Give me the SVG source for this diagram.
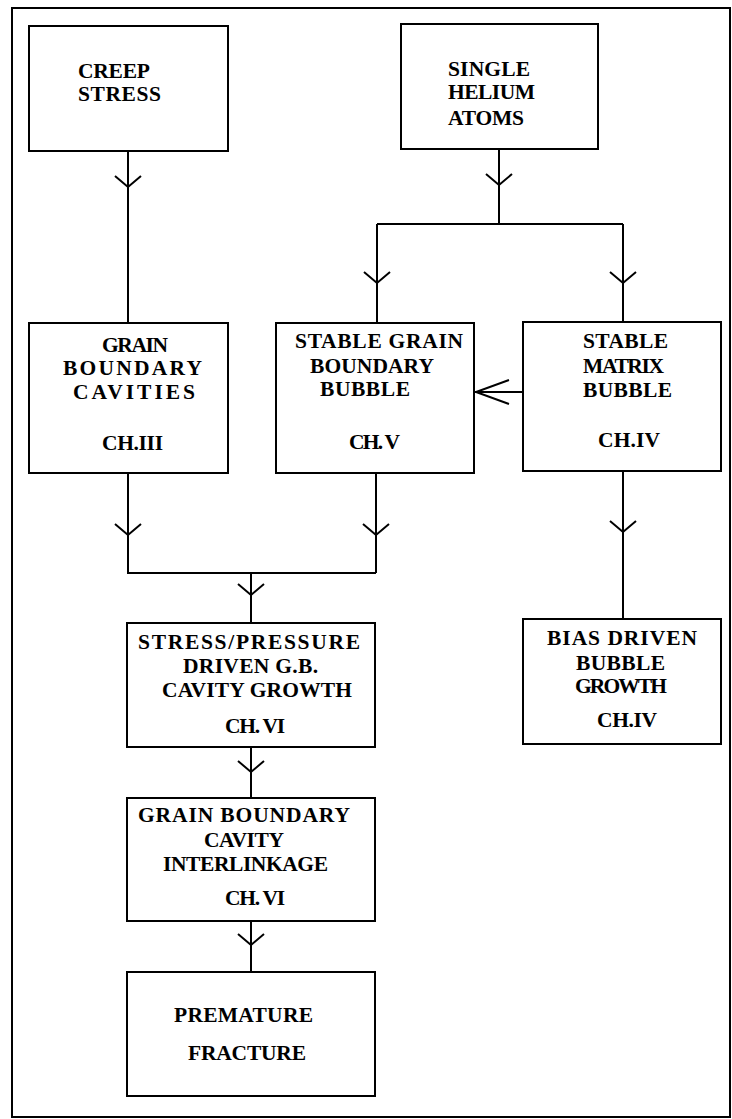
<svg xmlns="http://www.w3.org/2000/svg" width="732" height="1119" viewBox="0 0 732 1119">
<style>
.box{fill:#fff;stroke:#000;stroke-width:2}
.ln{fill:none;stroke:#000;stroke-width:2}
.ah{fill:none;stroke:#000;stroke-width:2;stroke-linejoin:miter}
text{font-family:"Liberation Serif","Times New Roman",serif;font-weight:bold;font-size:21.5px;fill:#000}
</style>
<rect x="12" y="8" width="718" height="1109" fill="#fff" stroke="#000" stroke-width="2"/>
<g id="connectors">
<path class="ln" d="M128 151V323"/>
<path class="ah" d="M115 176L128 187L141 176"/>
<path class="ln" d="M499 149V224M377 224H623M377 224V323M623 224V322"/>
<path class="ah" d="M486 174L499 185L512 174"/>
<path class="ah" d="M364 272L377 283L390 272"/>
<path class="ah" d="M610 272L623 283L636 272"/>
<path class="ln" d="M523 392H475"/>
<path class="ah" d="M509 380L476 392L509 404"/>
<path class="ln" d="M128 473V573H376M376 473V573M251 573V623"/>
<path class="ah" d="M115 524L128 535L141 524"/>
<path class="ah" d="M363 524L376 535L389 524"/>
<path class="ah" d="M238 584L251 595L264 584"/>
<path class="ln" d="M623 471V619"/>
<path class="ah" d="M610 521L623 532L636 521"/>
<path class="ln" d="M251 747V798"/>
<path class="ah" d="M238 761L251 772L264 761"/>
<path class="ln" d="M251 921V972"/>
<path class="ah" d="M238 934L251 945L264 934"/>
</g>
<g id="creep">
<rect class="box" x="29" y="26" width="199" height="125"/>
<text x="78" y="78" textLength="72" lengthAdjust="spacing">CREEP</text>
<text x="78" y="101" textLength="83" lengthAdjust="spacing">STRESS</text>
</g>
<g id="helium">
<rect class="box" x="401" y="24" width="197" height="125"/>
<text x="448" y="76" textLength="82" lengthAdjust="spacing">SINGLE</text>
<text x="448" y="99" textLength="87" lengthAdjust="spacing">HELIUM</text>
<text x="448" y="125" textLength="76" lengthAdjust="spacing">ATOMS</text>
</g>
<g id="gbcavities">
<rect class="box" x="29" y="323" width="199" height="150"/>
<text x="102" y="352" textLength="66" lengthAdjust="spacing">GRAIN</text>
<text x="63" y="375" textLength="139" lengthAdjust="spacing">BOUNDARY</text>
<text x="73" y="399" textLength="122" lengthAdjust="spacing">CAVITIES</text>
<text x="102" y="450" textLength="61" lengthAdjust="spacing">CH.III</text>
</g>
<g id="gbbubble">
<rect class="box" x="276" y="323" width="198" height="150"/>
<text x="295" y="348" textLength="168" lengthAdjust="spacing">STABLE GRAIN</text>
<text x="310" y="373" textLength="124" lengthAdjust="spacing">BOUNDARY</text>
<text x="320" y="396" textLength="90" lengthAdjust="spacing">BUBBLE</text>
<text x="349" y="449" textLength="51" lengthAdjust="spacing">CH. V</text>
</g>
<g id="matrixbubble">
<rect class="box" x="523" y="322" width="198" height="149"/>
<text x="583" y="348" textLength="85" lengthAdjust="spacing">STABLE</text>
<text x="583" y="373" textLength="81" lengthAdjust="spacing">MATRIX</text>
<text x="583" y="397" textLength="89" lengthAdjust="spacing">BUBBLE</text>
<text x="598" y="447" textLength="62" lengthAdjust="spacing">CH.IV</text>
</g>
<g id="biasgrowth">
<rect class="box" x="523" y="619" width="198" height="125"/>
<text x="547" y="645" textLength="150" lengthAdjust="spacing">BIAS DRIVEN</text>
<text x="576" y="670" textLength="89" lengthAdjust="spacing">BUBBLE</text>
<text x="575" y="693" textLength="92" lengthAdjust="spacing">GROWTH</text>
<text x="597" y="727" textLength="60" lengthAdjust="spacing">CH.IV</text>
</g>
<g id="cavitygrowth">
<rect class="box" x="127" y="623" width="248" height="124"/>
<text x="138" y="649" textLength="222" lengthAdjust="spacing">STRESS/PRESSURE</text>
<text x="183" y="673" textLength="135" lengthAdjust="spacing">DRIVEN G.B.</text>
<text x="162" y="697" textLength="190" lengthAdjust="spacing">CAVITY GROWTH</text>
<text x="225" y="733" textLength="60" lengthAdjust="spacing">CH. VI</text>
</g>
<g id="interlinkage">
<rect class="box" x="127" y="798" width="248" height="123"/>
<text x="138" y="822" textLength="212" lengthAdjust="spacing">GRAIN BOUNDARY</text>
<text x="204" y="847" textLength="80" lengthAdjust="spacing">CAVITY</text>
<text x="163" y="871" textLength="165" lengthAdjust="spacing">INTERLINKAGE</text>
<text x="225" y="905" textLength="60" lengthAdjust="spacing">CH. VI</text>
</g>
<g id="fracture">
<rect class="box" x="127" y="972" width="248" height="124"/>
<text x="174" y="1022" textLength="139" lengthAdjust="spacing">PREMATURE</text>
<text x="188" y="1060" textLength="118" lengthAdjust="spacing">FRACTURE</text>
</g>
</svg>
